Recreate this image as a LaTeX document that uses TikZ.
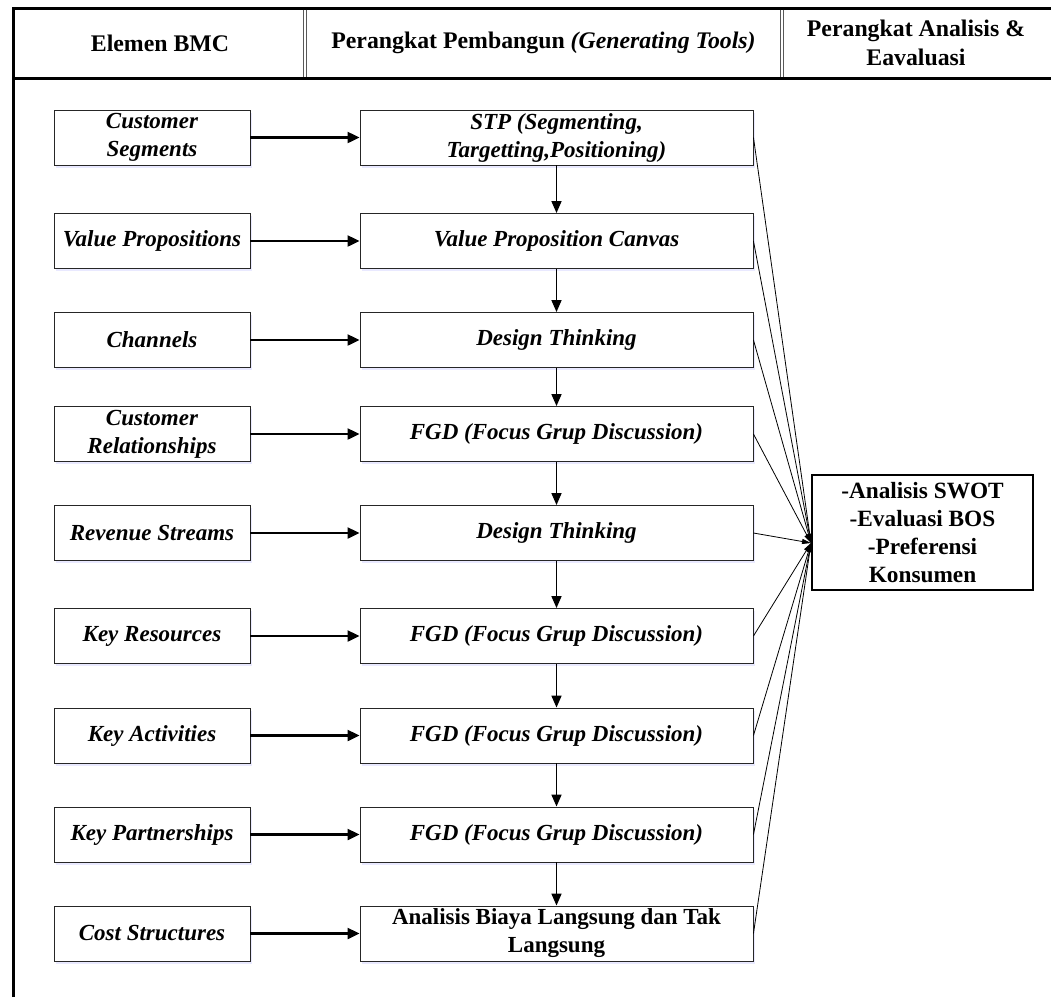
\documentclass[tikz,border=0pt]{standalone}
\usepackage{fontspec}
\setmainfont{Liberation Serif}
\usetikzlibrary{arrows.meta,shadows}
\begin{document}
\begin{tikzpicture}[x=1pt,y=-1pt,
  boxtext/.style={font=\fontsize{23}{28}\selectfont\bfseries\itshape, align=center},
  leftbox/.style={draw=black!85, line width=0.9pt, fill=white, minimum width=196pt, minimum height=55pt, inner sep=0pt, boxtext,
     drop shadow={shadow xshift=1.5pt, shadow yshift=-2.5pt, fill=blue!25, opacity=0.35}},
  midbox/.style={leftbox, minimum width=393pt},
  hdrtext/.style={font=\fontsize{23.8}{29}\selectfont\bfseries, align=center},
  harrow/.style={line width=2.2pt, -{Triangle[length=12pt,width=11pt]}},
  varrow/.style={line width=1.6pt, -{Triangle[length=12pt,width=10pt]}},
  convline/.style={line width=0.8pt, -{Triangle[length=9pt,width=5pt]}},
  frame/.style={line width=3pt, black},
  divline/.style={line width=0.8pt, black!65}
]
\useasboundingbox (0,0) rectangle (1051,997);
% frame
\draw[frame] (13,997) -- (13,8) -- (1051,8);
\draw[frame] (13,78) -- (1051,78);
\draw[divline] (303.5,9.5) -- (303.5,76.5);
\draw[divline] (306.5,9.5) -- (306.5,76.5);
\draw[divline] (780.5,9.5) -- (780.5,76.5);
\draw[divline] (783.5,9.5) -- (783.5,76.5);
% header text
\node[hdrtext] (h1) at (160,43) {Elemen BMC};
\node[hdrtext] (h2) at (543.5,43) {Perangkat Pembangun \textit{(Generating Tools)}};
\node[hdrtext] (h3) at (916,43) {Perangkat Analisis \&\\Eavaluasi};
% left boxes
\node[leftbox] (l1) at (152,137.5) {Customer\\Segments};
\node[leftbox] (l2) at (152,241) {Value Propositions};
\node[leftbox] (l3) at (152,340) {Channels};
\node[leftbox] (l4) at (152,434) {Customer\\Relationships};
\node[leftbox] (l5) at (152,533) {Revenue Streams};
\node[leftbox] (l6) at (152,636) {Key Resources};
\node[leftbox] (l7) at (152,735.5) {Key Activities};
\node[leftbox] (l8) at (152,834.5) {Key Partnerships};
\node[leftbox] (l9) at (152,933.5) {Cost Structures};
% middle boxes
\node[midbox] (m1) at (556.5,137.5) {STP (Segmenting,\\Targetting,Positioning)};
\node[midbox] (m2) at (556.5,241) {Value Proposition Canvas};
\node[midbox] (m3) at (556.5,340) {Design Thinking};
\node[midbox] (m4) at (556.5,434) {FGD (Focus Grup Discussion)};
\node[midbox] (m5) at (556.5,533) {Design Thinking};
\node[midbox] (m6) at (556.5,636) {FGD (Focus Grup Discussion)};
\node[midbox] (m7) at (556.5,735.5) {FGD (Focus Grup Discussion)};
\node[midbox] (m8) at (556.5,834.5) {FGD (Focus Grup Discussion)};
\node[midbox] (m9) at (556.5,933.5) {\upshape Analisis Biaya Langsung dan Tak\\\upshape Langsung};
% right box
\node[draw=black, line width=1.8pt, fill=white, minimum width=221pt, minimum height=115pt, inner sep=0pt,
  font=\fontsize{23.3}{28}\selectfont\bfseries, align=center] (r) at (922.5,532.5)
  {-Analisis SWOT\\-Evaluasi BOS\\-Preferensi\\Konsumen};
\coordinate (conv) at (811,543);
% horizontal arrows
\foreach \i in {1,...,9} {\draw[harrow] (l\i.east) -- (m\i.west);}
% vertical arrows
\foreach \i/\j in {1/2,2/3,3/4,4/5,5/6,6/7,7/8,8/9} {\draw[varrow] (m\i.south) -- (m\j.north);}
% converging lines
\foreach \i in {1,...,9} {\draw[convline] (m\i.east) -- (conv);}
\end{tikzpicture}
\end{document}
